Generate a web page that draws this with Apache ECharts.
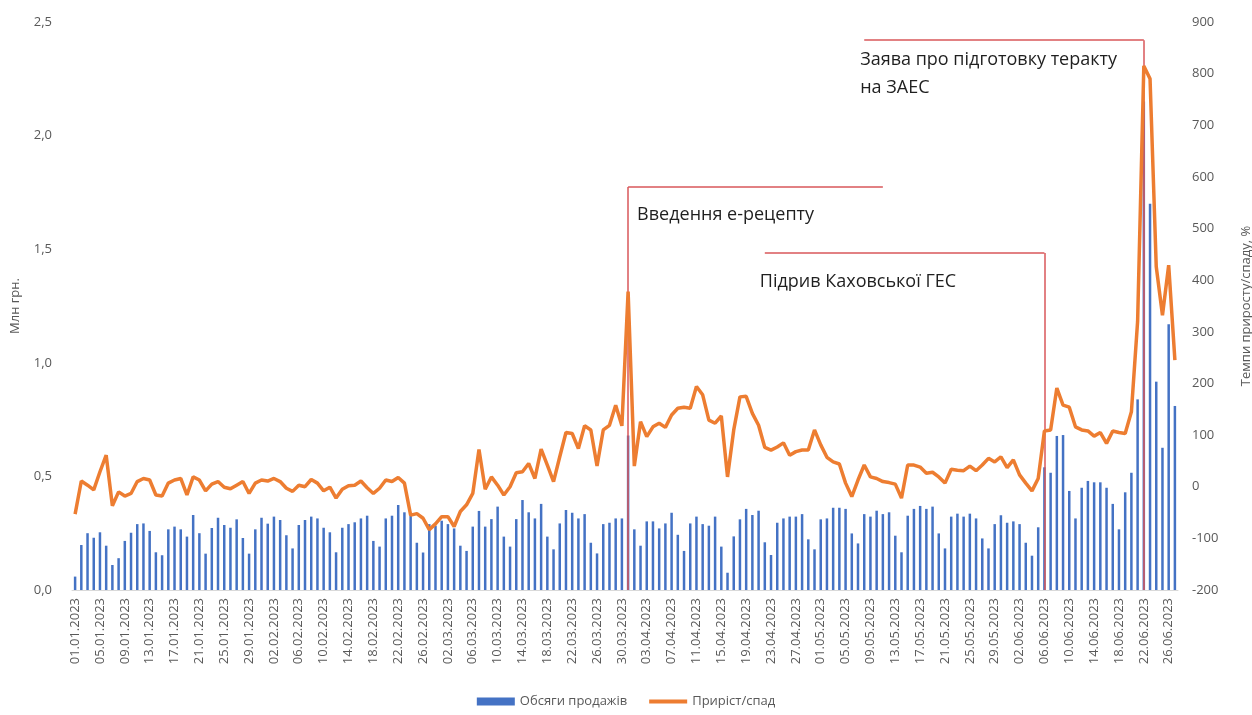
<!DOCTYPE html>
<html>
<head>
<meta charset="utf-8">
<script src="https://cdn.jsdelivr.net/npm/echarts@6/dist/echarts.min.js"></script>
<style>
  html, body { margin: 0; padding: 0; background: #fff; }
  #chart { width: 1252px; height: 715px; }
</style>
</head>
<body>
<div id="chart"></div>
<script>
// daily dates 01.01.2023 .. 27.06.2023
var startDate = Date.UTC(2023, 0, 1);
var dayCount = 178;
var dates = [];
for (var i = 0; i < dayCount; i++) {
  var d = new Date(startDate + i * 86400000);
  var dd = String(d.getUTCDate()).padStart(2, '0');
  var mm = String(d.getUTCMonth() + 1).padStart(2, '0');
  dates.push(dd + '.' + mm + '.' + d.getUTCFullYear());
}

// sales volume, mln UAH
var sales = [
  0.059, 0.198, 0.25, 0.23, 0.254, 0.195, 0.11, 0.14, 0.216, 0.252,
  0.29, 0.293, 0.26, 0.166, 0.153, 0.267, 0.279, 0.267, 0.235, 0.33,
  0.25, 0.16, 0.273, 0.318, 0.286, 0.274, 0.311, 0.229, 0.16, 0.267,
  0.318, 0.292, 0.323, 0.308, 0.241, 0.183, 0.286, 0.308, 0.323, 0.315,
  0.274, 0.254, 0.166, 0.274, 0.29, 0.298, 0.315, 0.327, 0.216, 0.191,
  0.315, 0.327, 0.374, 0.342, 0.33, 0.208, 0.165, 0.29, 0.283, 0.305,
  0.29, 0.271, 0.195, 0.172, 0.279, 0.348, 0.279, 0.312, 0.367, 0.235,
  0.191, 0.312, 0.396, 0.342, 0.315, 0.379, 0.235, 0.179, 0.293, 0.352,
  0.34, 0.315, 0.334, 0.208, 0.161, 0.29, 0.296, 0.315, 0.315, 0.68,
  0.267, 0.195, 0.302, 0.302, 0.271, 0.293, 0.34, 0.243, 0.172, 0.293,
  0.323, 0.29, 0.283, 0.323, 0.191, 0.076, 0.236, 0.311, 0.357, 0.33,
  0.349, 0.21, 0.154, 0.296, 0.315, 0.323, 0.323, 0.334, 0.223, 0.179,
  0.311, 0.315, 0.362, 0.362, 0.357, 0.249, 0.205, 0.334, 0.323, 0.349,
  0.334, 0.342, 0.239, 0.166, 0.327, 0.357, 0.37, 0.357, 0.367, 0.249,
  0.183, 0.323, 0.336, 0.323, 0.336, 0.315, 0.227, 0.183, 0.29, 0.329,
  0.296, 0.302, 0.29, 0.208, 0.151, 0.276, 0.54, 0.516, 0.678, 0.682,
  0.436, 0.315, 0.45, 0.48, 0.474, 0.474, 0.45, 0.379, 0.267, 0.43,
  0.516, 0.839, 2.15, 1.7, 0.917, 0.626, 1.17, 0.81
];

// growth / decline, %
var growth = [
  -53, 11, 3, -6, 29, 61, -37, -10, -18, -13,
  10, 16, 13, -16, -18, 7, 13, 16, -16, 19,
  13, -8, 5, 10, -1, -4, 3, 10, -13, 7,
  13, 11, 16, 10, -3, -9, 3, 0, 14, 7,
  -8, -1, -22, -5, 2, 3, 11, -2, -13, -3,
  13, 10, 18, 7, -55, -52, -61, -83, -72, -58,
  -58, -77, -48, -35, -13, 72, -5, 19, 3, -16,
  0, 27, 29, 45, 16, 73, 42, 10, 58, 105,
  103, 74, 118, 110, 40, 110, 119, 158, 118, 378,
  40, 126, 97, 116, 123, 115, 139, 152, 154, 152,
  194, 178, 129, 123, 137, 19, 110, 174, 175, 142,
  119, 76, 71, 77, 85, 61, 68, 71, 71, 110,
  81, 57, 48, 44, 7, -19, 13, 42, 19, 16,
  10, 8, 5, -22, 42, 42, 38, 26, 28, 19,
  7, 34, 32, 31, 40, 31, 42, 55, 48, 58,
  37, 52, 23, 7, -8, 16, 108, 110, 191, 158,
  154, 116, 110, 108, 98, 105, 84, 108, 105, 103,
  145, 320, 815, 790, 426, 332, 429, 245
];

var leftTicks = [0, 2.5, 0.5];
var rightTicks = [-200, 900, 100];

// annotated events
var eventDates = ['31.03.2023', '06.06.2023', '22.06.2023'];
var eventTexts = ['Введення е-рецепту', 'Підрив Каховської ГЕС', 'Заява про підготовку теракту\nна ЗАЕС'];

var fontFamily = '"Open Sans", "DejaVu Sans", sans-serif';
var axisColor = '#595959';
var red = '#d9575a';

// bracket lines: vertical from axis to level, horizontal to another date
var brackets = [
  { level: 1.774, from: eventDates[0], to: '11.05.2023' },
  { level: 1.483, from: '22.04.2023', to: eventDates[1] },
  { level: 2.42, from: '08.05.2023', to: eventDates[2] }
];
var markData = [];
brackets.forEach(function (b, i) {
  markData.push([{ coord: [eventDates[i], 0] }, { coord: [eventDates[i], b.level] }]);
  markData.push([{ coord: [b.from, b.level] }, { coord: [b.to, b.level] }]);
});

var chart = echarts.init(document.getElementById('chart'));

var option = {
  animation: false,
  textStyle: { fontFamily: fontFamily },
  grid: { left: 72, right: 74, top: 22, bottom: 125, outerBoundsMode: 'none' },
  legend: {
    bottom: 2,
    left: 'center',
    itemGap: 20,
    textStyle: { color: axisColor, fontSize: 13, fontFamily: fontFamily },
    data: [
      { name: 'Обсяги продажів', icon: 'rect', itemStyle: { color: '#4472c4' } },
      { name: 'Приріст/спад', itemStyle: { opacity: 0 }, lineStyle: { width: 4 } }
    ],
    itemWidth: 38,
    itemHeight: 8
  },
  xAxis: {
    type: 'category',
    data: dates,
    boundaryGap: true,
    axisLine: { lineStyle: { color: '#d9d9d9' } },
    axisTick: { show: false },
    axisLabel: {
      rotate: 90,
      interval: 3,
      color: axisColor,
      fontSize: 13,
      margin: 8,
      fontFamily: fontFamily
    }
  },
  yAxis: [
    {
      type: 'value',
      min: leftTicks[0],
      max: leftTicks[1],
      interval: leftTicks[2],
      name: 'Млн грн.',
      nameLocation: 'middle',
      nameGap: 50,
      nameRotate: 90,
      nameTextStyle: { color: axisColor, fontSize: 13 },
      axisLine: { show: false },
      axisTick: { show: false },
      splitLine: { show: false },
      axisLabel: {
        color: axisColor,
        fontSize: 13,
        margin: 20,
        formatter: function (v) { return v.toFixed(1).replace('.', ','); }
      }
    },
    {
      type: 'value',
      position: 'right',
      min: rightTicks[0],
      max: rightTicks[1],
      interval: rightTicks[2],
      name: 'Темпи приросту/спаду, %',
      nameLocation: 'middle',
      nameGap: 62,
      nameRotate: 90,
      nameTextStyle: { color: axisColor, fontSize: 13 },
      axisLine: { show: false },
      axisTick: { show: false },
      splitLine: { show: false },
      axisLabel: { color: axisColor, fontSize: 13, margin: 14 }
    }
  ],
  series: [
    {
      name: 'Обсяги продажів',
      type: 'bar',
      yAxisIndex: 0,
      data: sales,
      barWidth: 2.5,
      itemStyle: { color: '#4472c4' },
      markLine: {
        silent: true,
        symbol: ['none', 'none'],
        label: { show: false },
        lineStyle: { color: red, width: 1.5, type: 'solid' },
        data: markData
      }
    },
    {
      name: 'Приріст/спад',
      type: 'line',
      yAxisIndex: 1,
      data: growth,
      symbol: 'none',
      showSymbol: false,
      z: 5,
      itemStyle: { color: '#ed7d31' },
      lineStyle: { color: '#ed7d31', width: 3.5 }
    }
  ]
};
chart.setOption(option);

// event captions placed next to the bracket corners
var offsets = [[9, 26], [-5, 27], [-4, 18]];
var graphics = brackets.map(function (b, i) {
  var anchorDate = i === 0 ? eventDates[0] : b.from;
  var p = chart.convertToPixel({ xAxisIndex: 0, yAxisIndex: 0 }, [anchorDate, b.level]);
  return {
    type: 'text',
    left: p[0] + offsets[i][0],
    top: p[1] + offsets[i][1] - 12,
    style: {
      text: eventTexts[i],
      fill: '#1f1f1f',
      font: '18px ' + fontFamily,
      lineHeight: 28
    }
  };
});
chart.setOption({ graphic: graphics });
</script>
</body>
</html>
